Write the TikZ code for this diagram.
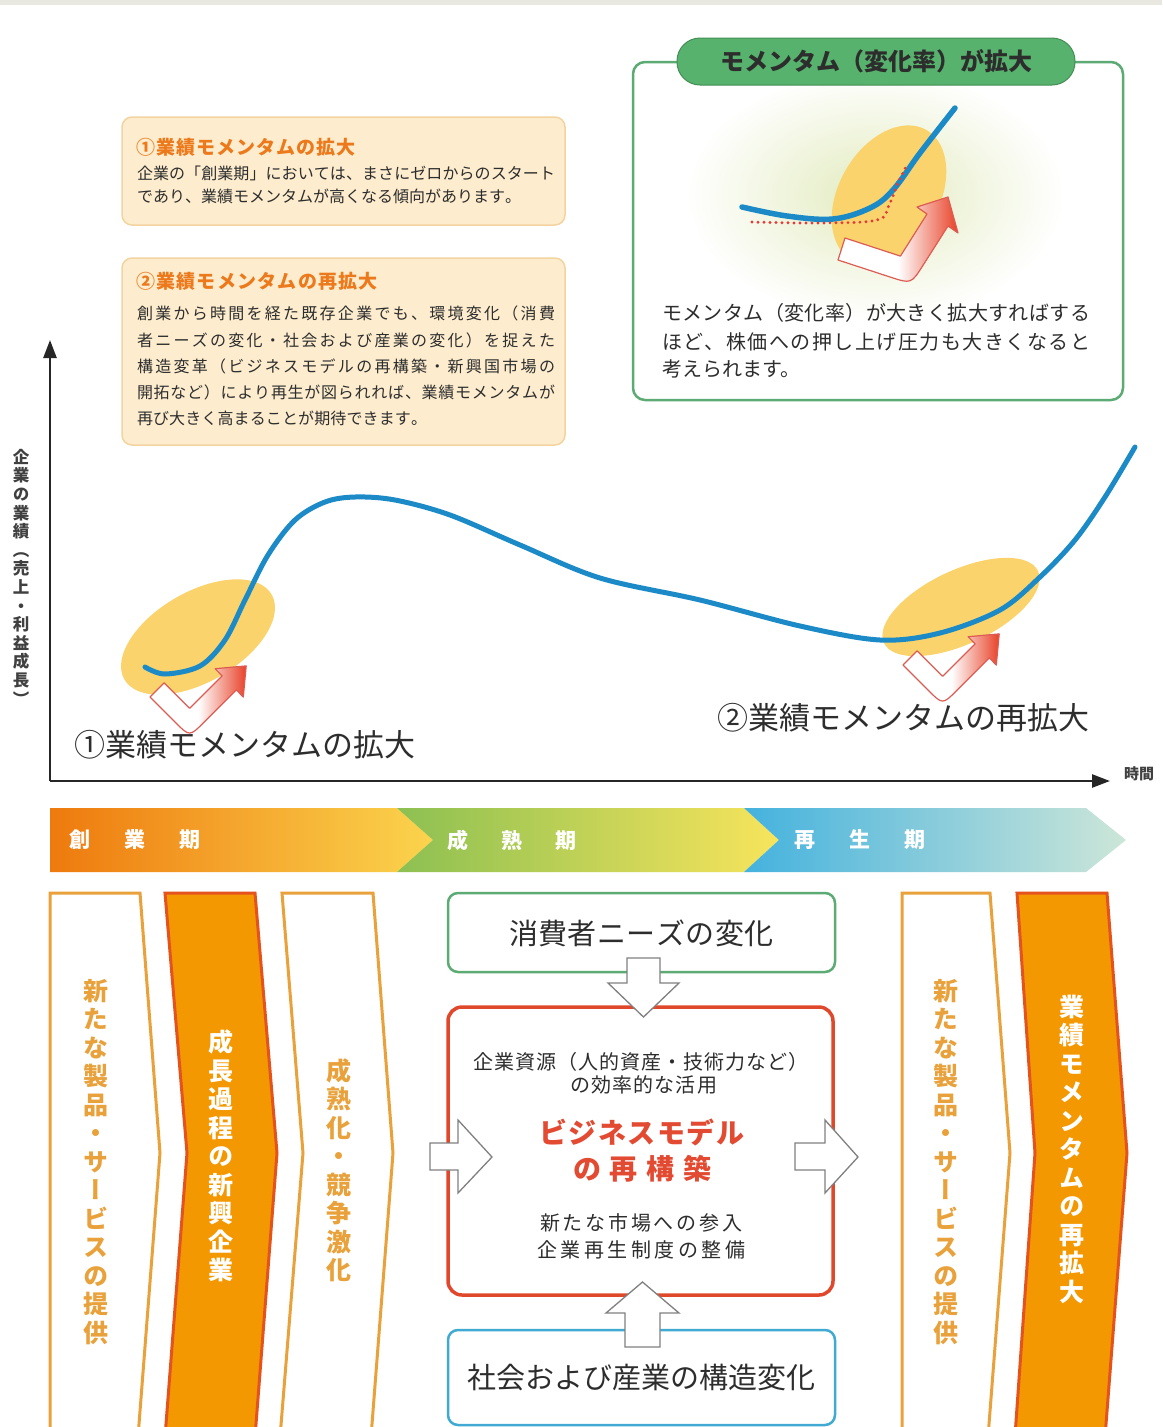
\documentclass[tikz,border=0pt]{standalone}
\usepackage{fontspec}
\setmainfont{Noto Sans CJK JP}
\newfontfamily\vjp[RawFeature=+vert]{Noto Sans CJK JP}
\usetikzlibrary{arrows.meta}

\definecolor{curveblue}{RGB}{27,138,198}
\definecolor{ellyellow}{RGB}{250,211,108}
\definecolor{arrred}{RGB}{232,66,40}
\definecolor{arrline}{RGB}{220,92,84}
\definecolor{boxfill}{RGB}{253,237,206}
\definecolor{boxline}{RGB}{243,212,160}
\definecolor{titleorange}{RGB}{236,122,28}
\definecolor{textgray}{RGB}{45,45,45}
\definecolor{greenline}{RGB}{92,170,116}
\definecolor{pillgreen}{RGB}{86,178,108}
\definecolor{glow}{RGB}{226,235,190}
\definecolor{chevgold}{RGB}{233,162,59}
\definecolor{chevorange}{RGB}{243,152,0}
\definecolor{chevred}{RGB}{228,82,30}
\definecolor{redbox}{RGB}{224,72,44}
\definecolor{bluebox}{RGB}{64,170,210}
\definecolor{bizred}{RGB}{226,74,50}
\definecolor{arrgray}{RGB}{128,128,128}
\definecolor{topband}{RGB}{232,232,224}
\definecolor{dotred}{RGB}{224,60,56}

\pgfdeclarehorizontalshading{arrowshade}{100bp}{color(0bp)=(white); color(25bp)=(white); color(50bp)=(white); color(75bp)=(arrred); color(100bp)=(arrred)}

\def\jspreadfirst#1{#1\jspreadrest}
\def\jspreadrest#1{\ifx#1\relax\else\hskip 0pt plus 1fil\relax#1\expandafter\jspreadrest\fi}
\newcommand\jspread[2]{\makebox[#1][s]{\jspreadfirst#2\relax}}

\begin{document}
\begin{tikzpicture}[x=1pt,y=-1pt,
  every node/.style={inner sep=0pt, outer sep=0pt},
  body/.style={anchor=west, text=textgray, font=\fontsize{16}{19}\selectfont},
  boxtitle/.style={anchor=west, text=titleorange, font=\bfseries\fontsize{19}{22}\selectfont},
  infobox/.style={draw=boxline, fill=boxfill, line width=1.5pt, rounded corners=10pt, anchor=north west},
  inset/.style={anchor=west, text=textgray, font=\fontsize{20}{24}\selectfont},
  bigtxt/.style={text=textgray, font=\fontsize{31}{36}\selectfont},
  phasetxt/.style={text=white, font=\bfseries\fontsize{21}{24}\selectfont},
  vgold/.style={text=chevgold, align=center, font=\vjp\bfseries\fontsize{25}{28.5}\selectfont},
  vwhite/.style={text=white, align=center, font=\vjp\bfseries\fontsize{25}{28.5}\selectfont},
  chevw/.style={draw=chevgold, fill=white, line width=3pt, line join=miter},
  chevo/.style={draw=chevred, fill=chevorange, line width=3pt, line join=miter},
  blockarr/.style={draw=arrgray, fill=white, line width=1.3pt, line join=miter},
  centertxt/.style={text=textgray, font=\fontsize{20}{24}\selectfont},
  bigbox/.style={text=textgray, font=\fontsize{29}{34}\selectfont},
  hookarr/.style={shading=arrowshade, draw=arrline, line width=1.2pt, line join=round}
]
\useasboundingbox (0,0) rectangle (1162,1427);
\fill[white] (0,0) rectangle (1162,1427);
\fill[topband] (0,0) rectangle (1162,5);

% ---------- info boxes ----------
\node[infobox, minimum width=443pt, minimum height=108pt] (box1) at (122,117) {};
\node[boxtitle] (box1t) at (136,147) {\jspread{220pt}{①業績モメンタムの拡大}};
\node[body] (box1a) at (137,173) {\jspread{418pt}{企業の「創業期」においては、まさにゼロからのスタート}};
\node[body] (box1b) at (137,196) {\jspread{383pt}{であり、業績モメンタムが高くなる傾向があります。}};

\node[infobox, minimum width=443pt, minimum height=187pt] (box2) at (122,258) {};
\node[boxtitle] (box2t) at (136,281) {\jspread{242pt}{②業績モメンタムの再拡大}};
\node[body] (box2a) at (137,313) {\jspread{418pt}{創業から時間を経た既存企業でも、環境変化（消費}};
\node[body] (box2b) at (137,340) {\jspread{418pt}{者ニーズの変化・社会および産業の変化）を捉えた}};
\node[body] (box2c) at (137,366) {\jspread{418pt}{構造変革（ビジネスモデルの再構築・新興国市場の}};
\node[body] (box2d) at (137,392) {\jspread{418pt}{開拓など）により再生が図られれば、業績モメンタムが}};
\node[body] (box2e) at (137,418) {\jspread{290pt}{再び大きく高まることが期待できます。}};

% ---------- inset box ----------
\node[draw=greenline, fill=white, line width=2.5pt, rounded corners=12pt, anchor=north west,
      minimum width=490pt, minimum height=338pt] (insetbox) at (633,62) {};
\shade[inner color=glow, outer color=white] (875,195) ellipse (190pt and 125pt);
\fill[ellyellow] (889,195) ellipse[x radius=75pt, y radius=50pt, rotate=60];
\draw[curveblue, line width=5.5pt, line cap=round] plot[smooth, tension=0.6] coordinates
  {(742,207) (787,216) (833,219) (870,208) (893,190) (920,153) (955,108)};
\draw[dotred, line width=3.2pt, line cap=round, dash pattern=on 0pt off 6pt] plot[smooth, tension=0.6] coordinates
  {(752,222) (820,223) (877,220) (889,205) (898,183) (907,165)};
\shadedraw[hookarr] (838,260) -- (890.3,277.1) .. controls (911.2,283.9) .. (923,265.3) -- (948,226)
   -- (958,233) -- (948,197) -- (917,207) -- (927,214) -- (900.4,256.1) -- (845,238) -- cycle;
\node[draw=pillgreen!80!black, fill=pillgreen, line width=1pt, rounded corners=23pt,
      minimum width=398pt, minimum height=47pt, text=textgray, font=\bfseries\fontsize{24}{28}\selectfont]
      (pill) at (876,61.5) {モメンタム（変化率）が拡大};
\node[inset] (ins1) at (662,313) {\jspread{428pt}{モメンタム（変化率）が大きく拡大すればする}};
\node[inset] (ins2) at (662,342) {\jspread{428pt}{ほど、株価への押し上げ圧力も大きくなると}};
\node[inset] (ins3) at (662,369) {考えられます。};

% ---------- chart ----------
\fill[ellyellow] (198,637) ellipse[x radius=85pt, y radius=45pt, rotate=30];
\fill[ellyellow] (961,607) ellipse[x radius=85pt, y radius=37pt, rotate=25];
\draw[curveblue, line width=5pt, line cap=round] plot[smooth, tension=0.55] coordinates
  {(145,667) (165,674) (200,666) (225,640) (245,600) (268,555) (295,520) (325,502) (355,497)
   (395,500) (450,515) (520,545) (600,578) (700,600) (800,626) (880,640) (940,633)
   (1000,610) (1040,577) (1075,540) (1105,497) (1135,447)};
\begin{scope}[shift={(150,697)}]
\shadedraw[hookarr] (0,0) -- (14.1,-14.1) -- (39.6,11.3) -- (72.1,-21.2) -- (65.1,-28.3) -- (96.2,-31.1)
   -- (93.3,0) -- (86.3,-7.1) -- (53.7,25.5) .. controls (39.6,39.6) .. (25.5,25.5) -- cycle;
\end{scope}
\begin{scope}[shift={(903,665)}]
\shadedraw[hookarr] (0,0) -- (14.1,-14.1) -- (39.6,11.3) -- (72.1,-21.2) -- (65.1,-28.3) -- (96.2,-31.1)
   -- (93.3,0) -- (86.3,-7.1) -- (53.7,25.5) .. controls (39.6,39.6) .. (25.5,25.5) -- cycle;
\end{scope}
\node[bigtxt, anchor=west] (lab1) at (74,745) {①業績モメンタムの拡大};
\node[bigtxt, anchor=west] (lab2) at (717,718) {②業績モメンタムの再拡大};

% axes
\coordinate (O) at (50,781);
\coordinate (ytop) at (50,340);
\coordinate (xend) at (1110,781);
\draw[black!85, line width=2.5pt, -{Triangle[length=18pt,width=13pt]}] (O) -- (ytop);
\draw[black!85, line width=2.5pt, -{Triangle[length=18pt,width=13pt]}] (O) -- (xend);
\node[text=black!75, font=\bfseries\fontsize{15}{18}\selectfont] (tlabel) at (1139,774) {時間};
\node[text=black!75, align=center, font=\vjp\bfseries\fontsize{16.5}{18.6}\selectfont] (ylabel) at (21,577)
  {企\\業\\の\\業\\績\\（\\売\\上\\・\\利\\益\\成\\長\\）};

% ---------- phase band ----------
\shade[left color={rgb,255:red,238;green,122;blue,14}, right color={rgb,255:red,251;green,212;blue,78}]
  (50,808) -- (397,808) -- (433,840) -- (397,872) -- (50,872) -- cycle;
\shade[left color={rgb,255:red,140;green,192;blue,82}, right color={rgb,255:red,248;green,228;blue,92}]
  (397,808) -- (744,808) -- (779,840) -- (744,872) -- (397,872) -- (433,840) -- cycle;
\shade[left color={rgb,255:red,68;green,178;blue,222}, right color={rgb,255:red,205;green,230;blue,216}]
  (744,808) -- (1086,808) -- (1126,840) -- (1086,872) -- (744,872) -- (779,840) -- cycle;
\node[phasetxt, anchor=west] (ph1) at (69,840) {\jspread{132pt}{創業期}};
\node[phasetxt, anchor=west] (ph2) at (447,840) {\jspread{130pt}{成熟期}};
\node[phasetxt, anchor=west] (ph3) at (794,840) {\jspread{132pt}{再生期}};

% ---------- bottom chevrons ----------
\begin{scope}
\clip (0,0) rectangle (1162,1427);
\draw[chevw] (50,893) -- (140,893) -- (160,1153) -- (137,1450) -- (50,1450) -- cycle;
\draw[chevo] (165,893) -- (255,893) -- (277,1153) -- (254,1450) -- (164,1450) -- (187,1153) -- cycle;
\draw[chevw] (282,893) -- (373,893) -- (393,1153) -- (370,1450) -- (279,1450) -- (303,1153) -- cycle;
\draw[chevw] (902,893) -- (990,893) -- (1010,1153) -- (987,1450) -- (902,1450) -- cycle;
\draw[chevo] (1017,893) -- (1107,893) -- (1127,1153) -- (1104,1450) -- (1014,1450) -- (1035,1153) -- cycle;
\end{scope}
\node[vgold] (vA) at (96,1162) {新\\た\\な\\製\\品\\・\\サ\\ー\\ビ\\ス\\の\\提\\供};
\node[vwhite] (vB) at (221,1156) {成\\長\\過\\程\\の\\新\\興\\企\\業};
\node[vgold] (vC) at (339,1170) {成\\熟\\化\\・\\競\\争\\激\\化};
\node[vgold] (vD) at (946,1162) {新\\た\\な\\製\\品\\・\\サ\\ー\\ビ\\ス\\の\\提\\供};
\node[vwhite] (vE) at (1072,1149) {業\\績\\モ\\メ\\ン\\タ\\ム\\の\\再\\拡\\大};

% ---------- center boxes ----------
\node[draw=greenline, fill=white, line width=2.5pt, rounded corners=10pt, anchor=north west,
      minimum width=387pt, minimum height=79pt] (needs) at (448,893) {};
\node[bigbox] (needst) at (641.5,933) {\jspread{265pt}{消費者ニーズの変化}};
\node[draw=redbox, fill=white, line width=3.5pt, rounded corners=14pt, anchor=north west,
      minimum width=385pt, minimum height=288pt] (biz) at (448,1007) {};
\node[draw=bluebox, fill=white, line width=2.5pt, rounded corners=10pt, anchor=north west,
      minimum width=387pt, minimum height=95pt] (social) at (448,1330) {};
\node[bigbox] (socialt) at (641.5,1377) {社会および産業の構造変化};

\node[centertxt] (biz1) at (640.5,1062) {\jspread{335pt}{企業資源（人的資産・技術力など）}};
\node[centertxt] (biz2) at (643.5,1085) {\jspread{147pt}{の効率的な活用}};
\node[text=bizred, font=\bfseries\fontsize{28}{32}\selectfont] (biz3) at (642,1132) {\jspread{205pt}{ビジネスモデル}};
\node[text=bizred, font=\bfseries\fontsize{28}{32}\selectfont] (biz4) at (642.5,1169) {\jspread{139pt}{の再構築}};
\node[centertxt] (biz5) at (641,1223) {\jspread{202pt}{新たな市場への参入}};
\node[centertxt] (biz6) at (641,1250) {\jspread{208pt}{企業再生制度の整備}};

% block arrows
\draw[blockarr] (627,958) -- (660,958) -- (660,983) -- (679,983) -- (643.5,1017) -- (608,983) -- (627,983) -- cycle;
\draw[blockarr] (625,1347) -- (660,1347) -- (660,1313) -- (679,1313) -- (642.5,1282) -- (606,1313) -- (625,1313) -- cycle;
\draw[blockarr] (430,1143) -- (458,1143) -- (458,1120) -- (492,1157) -- (458,1193) -- (458,1170) -- (430,1170) -- cycle;
\draw[blockarr] (795,1143) -- (825,1143) -- (825,1120) -- (858,1157) -- (825,1193) -- (825,1170) -- (795,1170) -- cycle;
\end{tikzpicture}
\end{document}
